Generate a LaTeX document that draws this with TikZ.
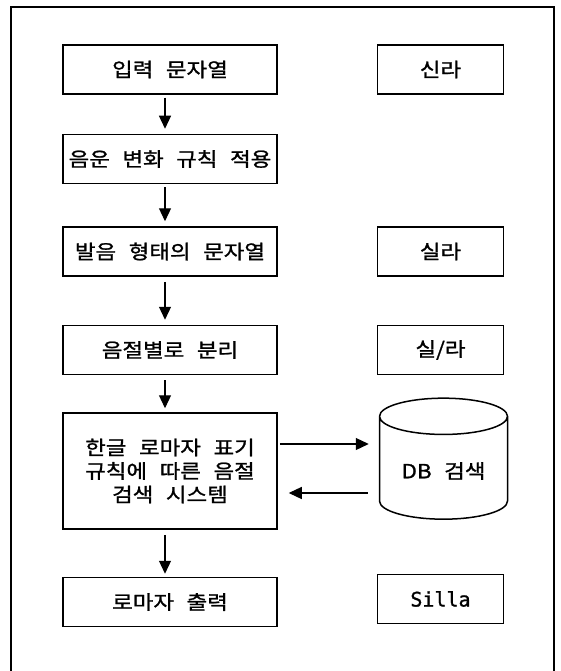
\documentclass[tikz,border=0pt]{standalone}
\usepackage{fontspec}
\newfontfamily\kor[WordSpace=2.5, FakeBold=1.2, FakeStretch=1.15]{Noto Sans CJK KR}
\newfontfamily\latmono[FakeBold=1.2]{DejaVu Sans Mono}
\usetikzlibrary{positioning}
\usetikzlibrary{shapes.geometric}
\usetikzlibrary{arrows.meta}

\begin{document}
\begin{tikzpicture}[x=1pt, y=1pt,
stepnode/.style={rectangle, draw=black, line width=1.5pt, minimum width=214pt, minimum height=49pt, inner sep=2pt, align=center, font=\kor\fontsize{19.5}{23.5}\selectfont},
examplenode/.style={rectangle, draw=black, line width=1.5pt, minimum width=126pt, minimum height=49pt, font=\kor\fontsize{19.5}{23.5}\selectfont},
dbnode/.style={cylinder, shape border rotate=90, aspect=0.4, draw=black, line width=1.5pt, minimum width=128pt, minimum height=121pt, font=\kor\fontsize{19.5}{23.5}\selectfont},
flow/.style={-{Triangle[length=13pt, width=12pt]}, line width=1.2pt},
]

% Page size and the outer frame (open at the bottom)
\useasboundingbox (0,0) rectangle (561,-671);
\draw[line width=1.3pt] (11,-671) -- (11,-7) -- (554,-7) -- (554,-671);

% Process nodes
\node[stepnode]      (input)                          at (170,-69.5) {입력 문자열};
\node[stepnode]      (rule)      [below=39pt of input]   {음운 변화 규칙 적용};
\node[stepnode]      (pron)      [below=42pt of rule]    {발음 형태의 문자열};
\node[stepnode]      (split)     [below=48pt of pron]    {음절별로 분리};
\node[stepnode, minimum height=116pt] (search) [below=37pt of split] {한글 로마자 표기\\규칙에 따른 음절\\검색 시스템};
\node[stepnode]      (output)    [below=47pt of search]  {로마자 출력};

% Example nodes
\node[examplenode]   (exinput)   [right=99pt of input]   {신라};
\node[examplenode]   (expron)    [right=99pt of pron]    {실라};
\node[examplenode]   (exsplit)   [right=99pt of split]   {실/라};
\node[examplenode, font=\latmono\fontsize{20}{23}\selectfont] (exoutput) [right=99pt of output, yshift=3pt] {Silla};

% Database node
\node[dbnode]        (db)        [right=101pt of search] {DB 검색};

\draw[flow, shorten <=3pt, shorten >=5pt] ([xshift=-5pt]input.south) -- ([xshift=-5pt]rule.north);
\draw[flow, shorten <=3pt, shorten >=5pt] ([xshift=-5pt]rule.south) -- ([xshift=-5pt]pron.north);
\draw[flow, shorten <=5pt, shorten >=5pt] ([xshift=-5pt]pron.south) -- ([xshift=-5pt]split.north);
\draw[flow, shorten <=5pt, shorten >=4pt] ([xshift=-5pt]split.south) -- ([xshift=-5pt]search.north);
\draw[flow, shorten <=5pt, shorten >=3pt] ([xshift=-5pt]search.south) -- ([xshift=-5pt]output.north);
\draw[flow, shorten <=2pt, shorten >=10pt] ([yshift=27pt]search.east) -- ([yshift=27pt]db.west);
\draw[flow, shorten <=11pt, shorten >=11pt] ([yshift=-22pt]db.west) -- ([yshift=-22pt]search.east);
\end{tikzpicture}
\end{document}
